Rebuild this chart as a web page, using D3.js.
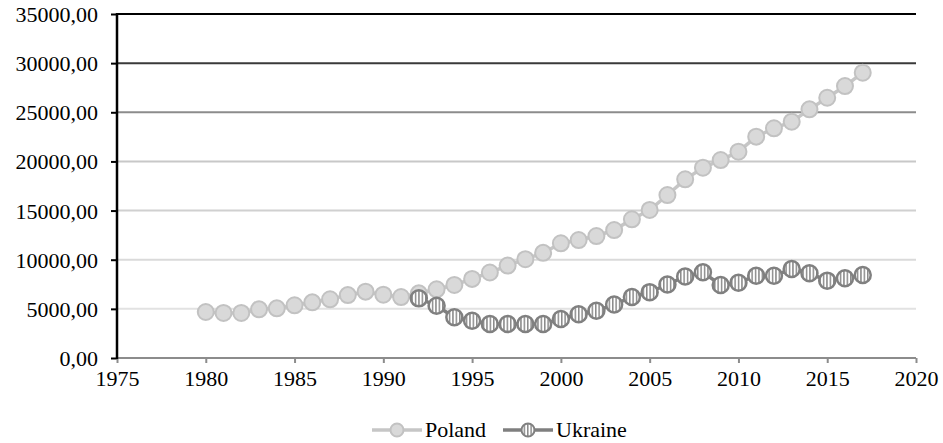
<!DOCTYPE html>
<html>
<head>
<meta charset="utf-8">
<script src="https://cdn.jsdelivr.net/npm/d3@7"></script>
<style>
  text { font-family: "Times New Roman", "Liberation Serif", Tinos, serif !important; }
</style>
</head>
<body style="margin:0">
<script>
const w = 943;
const h = 443;

const years = d3.range(1980, 2018);
const poland = [4680, 4580, 4580, 4950, 5050, 5360, 5660, 5970, 6400, 6750,
  6440, 6200, 6580, 6990, 7430, 8050, 8700, 9400, 10050, 10700,
  11670, 12000, 12410, 13020, 14110, 15060, 16580, 18180, 19360, 20140,
  20990, 22520, 23370, 24040, 25300, 26480, 27670, 29030];
const ukraineYears = d3.range(1992, 2018);
const ukraine = [6070, 5320, 4140, 3790, 3460, 3460, 3460, 3460, 3970, 4450,
  4800, 5450, 6200, 6700, 7480, 8300, 8720, 7430, 7660, 8370,
  8370, 9050, 8620, 7870, 8110, 8440];
const xTicks = d3.range(1975, 2021, 5);
const yTicks = d3.range(0, 35001, 5000);
// gridline shades, dark at the top fading to light
const gridColors = ["#e2e2e2", "#e2e2e2", "#dadada", "#d0d0d0", "#c8c8c8", "#8c8c8c", "#3a3a3a", "#000"];

const svg = d3.select("body")
    .append("svg")
    .attr("width", w)
    .attr("height", h);

const xScale = d3.scaleLinear().domain([1975, 2020]).range([117, 916]);
const yScale = d3.scaleLinear().domain([0, 35000]).range([358, 14]);

const defs = svg.append("defs");
const pat = defs.append("pattern")
    .attr("id", "stripes")
    .attr("patternUnits", "userSpaceOnUse")
    .attr("width", 3.4)
    .attr("height", 10);
pat.append("rect").attr("width", 3.4).attr("height", 10).attr("fill", "#fff");
pat.append("rect").attr("width", 1.5).attr("height", 10).attr("fill", "#8a8a8a");

// gridlines
svg.append("g")
    .selectAll("line")
    .data(yTicks.slice(1))
    .enter()
    .append("line")
    .attr("x1", xScale(1975))
    .attr("x2", xScale(2020))
    .attr("y1", d => yScale(d))
    .attr("y2", d => yScale(d))
    .attr("stroke", (d, i) => gridColors[i + 1])
    .attr("stroke-width", 2);

const fmt = d => d3.format(".2f")(d).replace(".", ",");

const yAxis = d3.axisLeft(yScale).tickValues(yTicks).tickFormat(fmt).tickSize(6).tickPadding(13);
const gy = svg.append("g")
    .attr("transform", `translate(${xScale(1975)},0)`)
    .call(yAxis)
    .attr("font-family", "Times New Roman")
    .attr("font-size", 22);
gy.select(".domain").remove();
gy.selectAll("line").attr("stroke", "#000").attr("stroke-width", 2);
gy.selectAll("text")
    .attr("fill", "#000")
    .attr("dy", "0.34em");

const xAxis = d3.axisBottom(xScale).tickValues(xTicks).tickFormat(d3.format("d")).tickSize(5).tickPadding(7);
const gx = svg.append("g")
    .attr("transform", `translate(0,${yScale(0)})`)
    .call(xAxis)
    .attr("font-family", "Times New Roman")
    .attr("font-size", 22);
gx.select(".domain").attr("stroke", "#8c8c8c").attr("stroke-width", 2).attr("d", `M${xScale(1975)},0H${xScale(2020)}`);
gx.selectAll("line").attr("stroke", "#8c8c8c").attr("stroke-width", 2);
gx.selectAll("text").attr("fill", "#000");

// y axis line on top
svg.append("line")
    .attr("x1", xScale(1975)).attr("x2", xScale(1975))
    .attr("y1", yScale(35000) - 1).attr("y2", yScale(0) + 1)
    .attr("stroke", "#000").attr("stroke-width", 2.5);

const line = d3.line().x(d => xScale(d[0])).y(d => yScale(d[1]));
const polData = years.map((y, i) => [y, poland[i]]);
const ukrData = ukraineYears.map((y, i) => [y, ukraine[i]]);

svg.append("path")
    .datum(polData)
    .attr("d", line)
    .attr("fill", "none")
    .attr("stroke", "#c6c6c6")
    .attr("stroke-width", 3.5);

svg.append("g")
    .selectAll("circle")
    .data(polData)
    .enter()
    .append("circle")
    .attr("cx", d => xScale(d[0]))
    .attr("cy", d => yScale(d[1]))
    .attr("r", 8)
    .attr("fill", "#d9d9d9")
    .attr("stroke", "#c2c2c2")
    .attr("stroke-width", 2);

svg.append("path")
    .datum(ukrData)
    .attr("d", line)
    .attr("fill", "none")
    .attr("stroke", "#7f7f7f")
    .attr("stroke-width", 3.5);

svg.append("g")
    .selectAll("circle")
    .data(ukrData)
    .enter()
    .append("circle")
    .attr("cx", d => xScale(d[0]))
    .attr("cy", d => yScale(d[1]))
    .attr("r", 8)
    .attr("fill", "url(#stripes)")
    .attr("stroke", "#808080")
    .attr("stroke-width", 2.5);

// legend
const legend = [
  {name: "Poland", x: 372, line: "#c6c6c6", fill: "#d9d9d9", stroke: "#c2c2c2"},
  {name: "Ukraine", x: 503, line: "#7f7f7f", fill: "url(#stripes)", stroke: "#808080"}
];
const lg = svg.append("g").attr("transform", "translate(0,430)");
lg.selectAll("g")
    .data(legend)
    .enter()
    .append("g")
    .each(function(d) {
      const g = d3.select(this);
      g.append("line")
        .attr("x1", d.x).attr("x2", d.x + 50)
        .attr("stroke", d.line).attr("stroke-width", 3.5);
      g.append("circle")
        .attr("cx", d.x + 25).attr("r", 6.5)
        .attr("fill", d.fill).attr("stroke", d.stroke).attr("stroke-width", 2);
      g.append("text")
        .attr("x", d.x + 53).attr("dy", "0.34em")
        .attr("fill", "#000")
        .attr("font-size", 22)
        .text(d.name);
    });
</script>
</body>
</html>
